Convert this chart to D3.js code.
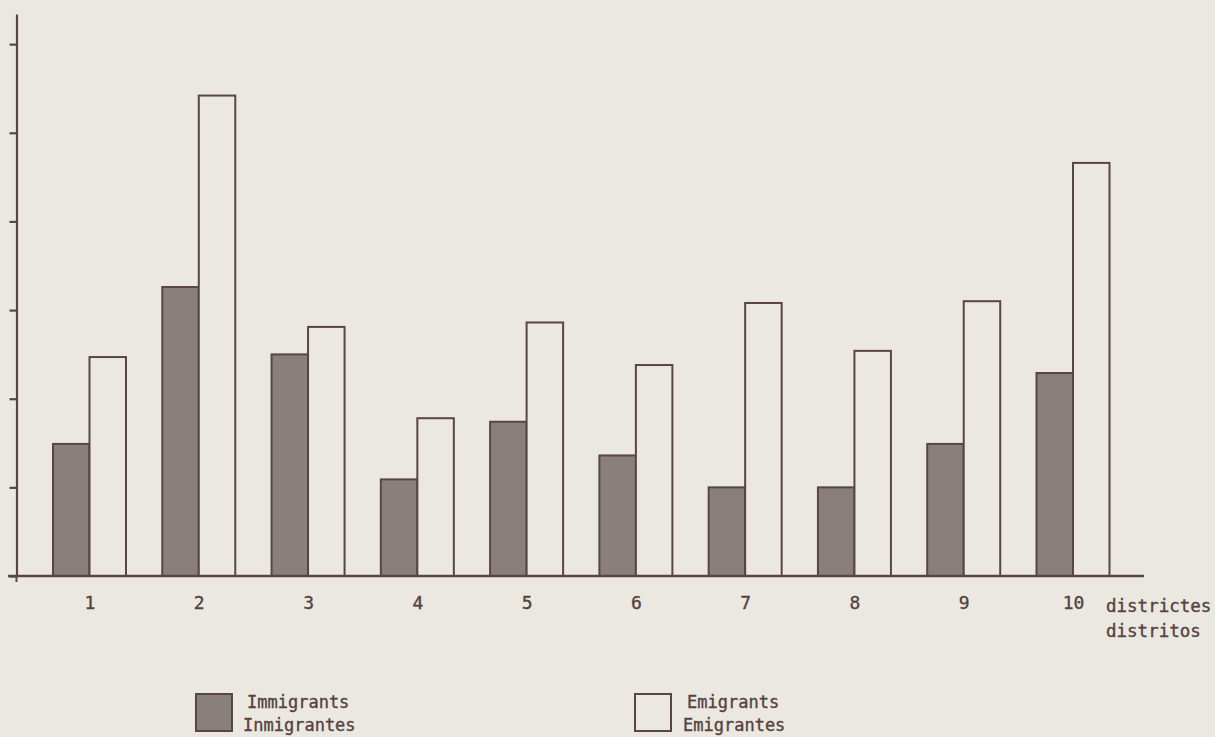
<!DOCTYPE html>
<html>
<head>
<meta charset="utf-8">
<script src="https://cdn.jsdelivr.net/npm/d3@7"></script>
<style>
  html, body { margin: 0; padding: 0; background: #ebe8e1; }
  svg { display: block; }
  text { font-family: "DejaVu Sans Mono", "Liberation Mono", monospace; fill: #54423f; stroke: #54423f; stroke-width: 0.35px; }
</style>
</head>
<body>
<svg id="chart" width="1215" height="737"></svg>
<script>
// ---- data (values in axis-tick units) ----
const districts = ["1","2","3","4","5","6","7","8","9","10"];
const immigrants = [1.49, 3.26, 2.50, 1.09, 1.74, 1.36, 1.00, 1.00, 1.49, 2.29];
const emigrants  = [2.47, 5.42, 2.81, 1.78, 2.86, 2.38, 3.08, 2.54, 3.10, 4.66];
const yTicks = [0, 1, 2, 3, 4, 5, 6];
const seriesKeys = ["imm", "emi"];
const legendLabels = {
  imm: ["Immigrants", "Inmigrantes"],
  emi: ["Emigrants", "Emigrantes"]
};
const axisTitle = ["districtes", "distritos"];

// ---- style ----
const ink = "#5a4542";
const immFill = "#89807c";
const paper = "#ebe8e1";

const svg = d3.select("#chart");
svg.append("rect").attr("width", 1215).attr("height", 737).attr("fill", paper);

const baseY = 576, topY = 14, axisX = 16.5;
const y = d3.scaleLinear().domain([0, 6.34]).range([baseY, topY]);
const xc = d3.scalePoint().domain(districts).range([89.5, 1073]);
const xs = d3.scaleBand().domain(seriesKeys).range([-36.5, 36.5]).padding(0);

const data = districts.map((d, i) => ({ d, imm: immigrants[i], emi: emigrants[i] }));

// bars
const g = svg.append("g");
data.forEach(row => {
  seriesKeys.forEach(k => {
    g.append("rect")
      .attr("x", xc(row.d) + xs(k))
      .attr("y", y(row[k]))
      .attr("width", xs.bandwidth())
      .attr("height", baseY - y(row[k]))
      .attr("fill", k === "imm" ? immFill : paper)
      .attr("stroke", ink)
      .attr("stroke-width", 2);
  });
});

// y axis
const yAxis = d3.axisLeft(y).tickValues(yTicks).tickSize(7).tickSizeOuter(0).tickFormat("");
const ya = svg.append("g").attr("transform", `translate(${axisX},0)`).call(yAxis);
ya.selectAll("path, line").attr("stroke", ink).attr("stroke-width", 2.2);
svg.append("line").attr("x1", axisX).attr("x2", axisX).attr("y1", baseY).attr("y2", baseY + 6)
  .attr("stroke", ink).attr("stroke-width", 2);

// x baseline
svg.append("line").attr("x1", 8).attr("x2", 1144).attr("y1", baseY).attr("y2", baseY)
  .attr("stroke", ink).attr("stroke-width", 2.4);

// x labels
const xAxis = d3.axisBottom(xc).tickSize(0).tickPadding(17);
const xa = svg.append("g").attr("transform", `translate(0,${baseY})`).call(xAxis);
xa.select(".domain").remove();
xa.selectAll("text").style("font-family", '"DejaVu Sans Mono", monospace')
  .attr("font-size", 18).attr("fill", "#54423f").attr("dy", "0.9em");

// axis title
svg.append("text").attr("x", 1106).attr("y", 612).attr("font-size", 17.5).text(axisTitle[0]);
svg.append("text").attr("x", 1106).attr("y", 637).attr("font-size", 17.5).text(axisTitle[1]);

// legend
const legend = [
  { k: "imm", x: 196, tx: 243 },
  { k: "emi", x: 635, tx: 683 }
];
legend.forEach(l => {
  svg.append("rect").attr("x", l.x).attr("y", 694).attr("width", 36).attr("height", 37)
    .attr("fill", l.k === "imm" ? immFill : paper).attr("stroke", ink).attr("stroke-width", 2);
  svg.append("text").attr("x", l.tx + 4).attr("y", 708).attr("font-size", 17).text(legendLabels[l.k][0]);
  svg.append("text").attr("x", l.tx).attr("y", 731).attr("font-size", 17).text(legendLabels[l.k][1]);
});
</script>
</body>
</html>
